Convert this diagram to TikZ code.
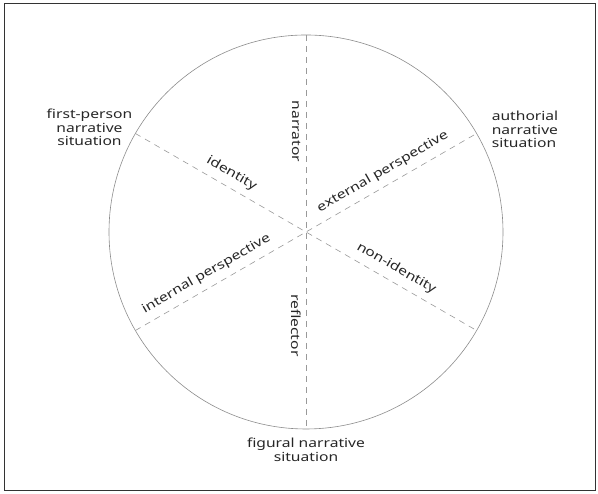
\documentclass[tikz,border=0pt]{standalone}
\usepackage{fontspec}
\setmainfont{Noto Sans}[FakeStretch=1.25]
\usetikzlibrary{positioning}
\begin{document}
\begin{tikzpicture}[x=1pt,y=1pt,
    lbl/.style={font=\fontsize{12.5}{13.5}\selectfont,text=black!85,inner sep=1pt},
    axis/.style={black!40,dash pattern=on 6pt off 5pt,line width=.6pt}]
\useasboundingbox (0,0) rectangle (598,494);
\draw[black!80,line width=1pt] (4,3) rectangle (595,490);
\coordinate (c) at (306,262);
\draw[black!45,line width=.6pt] (c) circle (197);
\path (c) ++(90:197) coordinate (top) (c) ++(-90:197) coordinate (bot)
      (c) ++(150:197) coordinate (nw) (c) ++(-30:197) coordinate (se)
      (c) ++(210:197) coordinate (sw) (c) ++(30:197) coordinate (ne);
% the three axes
\draw[axis] (top) -- node[lbl,sloped,below=4pt,pos=.245] (narr) {narrator}
                     node[lbl,sloped,below=4pt,pos=.737] (refl) {reflector} (bot);
\draw[axis] (nw) -- node[lbl,sloped,above=6pt,pos=.262] (ident) {identity}
                    node[lbl,sloped,above=6pt,pos=.745] (nonid) {non-identity} (se);
\draw[axis] (sw) -- node[lbl,sloped,above=6pt,pos=.228] (intp) {internal perspective}
                    node[lbl,sloped,above=6pt,pos=.745] (extp) {external perspective} (ne);
% the three narrative situations
\node[lbl,align=center,left=2pt of nw,yshift=6pt] (first) {first-person\\narrative\\situation};
\node[lbl,align=left,right=14pt of ne,yshift=4pt] (auth) {authorial\\narrative\\situation};
\node[lbl,align=center,below=8pt of bot] (fig) {figural narrative\\situation};
\end{tikzpicture}
\end{document}
